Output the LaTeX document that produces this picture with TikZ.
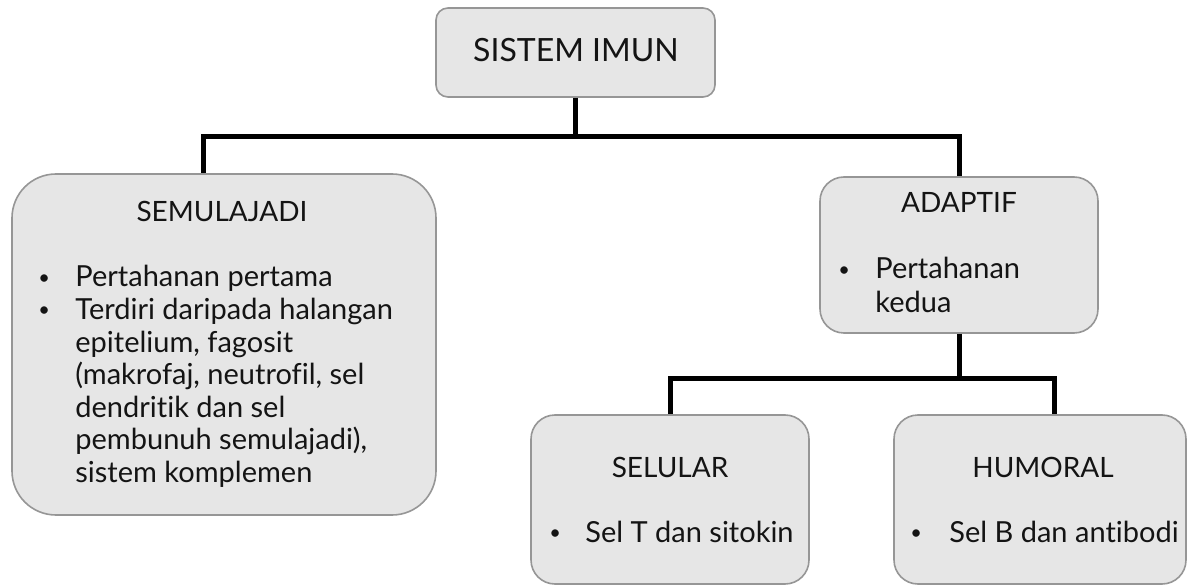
\documentclass[tikz,border=0pt]{standalone}
\usepackage{fontspec}
\setmainfont{Lato}[Ligatures={NoCommon}]
\usepackage{tikz}
\usetikzlibrary{shapes,positioning}
\definecolor{boxfill}{RGB}{230,230,230}
\definecolor{boxline}{RGB}{150,150,150}
\definecolor{ink}{RGB}{20,20,20}
\newcommand{\titik}{\raisebox{0.2ex}{\fontsize{10}{12}\selectfont\textbullet}}
\tikzset{
  kotak/.style={draw=boxline, fill=boxfill, line width=0.8pt, rounded corners=#1, inner sep=0pt},
  kotak/.default=6pt,
  sambung/.style={line width=2.5pt, black},
  teks/.style={text=ink, font=\fontsize{14.5}{17}\selectfont, inner sep=0pt, anchor=base west},
  tajuk/.style={text=ink, font=\fontsize{14}{16}\selectfont, inner sep=0pt, anchor=base}
}

\begin{document}
\begin{tikzpicture}[x=0.5pt,y=-0.5pt]
  \useasboundingbox (0,0) rectangle (1187,587);
  % kotak
  \node[kotak=6pt, minimum width=139.5pt, minimum height=44.5pt] (imun) at (575.5,52.5) {};
  \node[kotak=22pt, minimum width=212pt, minimum height=170.5pt] (semula) at (224,344.5) {};
  \node[kotak=12pt, minimum width=139pt, minimum height=78pt] (adaptif) at (959,255) {};
  \node[kotak=12pt, minimum width=139pt, minimum height=84.5pt] (selular) at (670,499.5) {};
  \node[kotak=12pt, minimum width=146pt, minimum height=84.5pt] (humoral) at (1040,499.5) {};

  % garis
  \coordinate (kiri) at (203,137);
  \coordinate (kanan) at (1054,378);
  \draw[sambung] (imun.south) |- (kiri) -- (kiri |- semula.north);
  \draw[sambung] (imun.south) |- (adaptif.north |- kiri) -- (adaptif.north);
  \draw[sambung] (adaptif.south) |- (selular.north |- kanan) -- (selular.north);
  \draw[sambung] (adaptif.south) |- (kanan) -- (kanan |- humoral.north);

  % tajuk
  \node[tajuk, font=\fontsize{16}{19}\selectfont] (judul) at (576,62) {SISTEM IMUN};
  \node[tajuk] (tsemula) at (222,222) {SEMULAJADI};
  \node[tajuk] (tadaptif) at (959,213) {ADAPTIF};
  \node[tajuk] (tselular) at (670,477) {SELULAR};
  \node[tajuk] (thumoral) at (1043,477) {HUMORAL};

  % isi
  \node[teks] (bsem1) at (38,287) {\titik};
  \node[teks] (bsem2) at (38,319.5) {\titik};
  \foreach \baris [count=\i] in {Pertahanan pertama, Terdiri daripada halangan,
      {epitelium, fagosit}, {(makrofaj, neutrofil, sel}, dendritik dan sel,
      {pembunuh semulajadi),}, sistem komplemen}
    \node[teks] (sem\i) at (75,{287+32.5*(\i-1)}) {\baris};

  \node[teks] (bad) at (838,279) {\titik};
  \node[teks] (ad1) at (875,279) {Pertahanan};
  \node[teks] (ad2) at (875,313) {kedua};

  \node[teks] (bsel) at (549,542) {\titik};
  \node[teks] (sel1) at (585,542) {Sel T dan sitokin};

  \node[teks] (bhum) at (910,542) {\titik};
  \node[teks] (hum1) at (949,542) {Sel B dan antibodi};
\end{tikzpicture}
\end{document}
